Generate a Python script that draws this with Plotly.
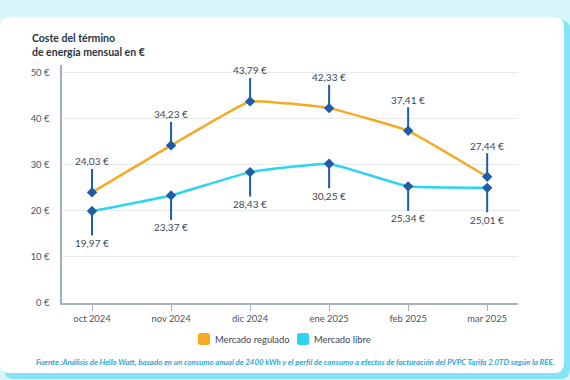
import plotly.graph_objects as go

months = ["oct 2024", "nov 2024", "dic 2024", "ene 2025", "feb 2025", "mar 2025"]
regulado = [24.03, 34.23, 43.79, 42.33, 37.41, 27.44]
libre = [19.97, 23.37, 28.43, 30.25, 25.34, 25.01]
y_ticks = [0, 10, 20, 30, 40, 50]
y_labels = ["0 €", "10 €", "20 €", "30 €", "40 €", "50 €"]
series_names = ["Mercado regulado", "Mercado libre"]

W, H = 570, 380
L, R, T, B = 62, 52, 65, 77
PW, PH = W - L - R, H - T - B


def px_x(p):
    return (p - L) / PW


def px_y(p):
    return (H - B - p) / PH


def fmt(v):
    return f"{v:.2f}".replace(".", ",") + " €"


def rounded_rect(x0, y0, x1, y1, r):
    X = px_x
    Y = px_y
    return (f"M {X(x0 + r)},{Y(y0)} L {X(x1 - r)},{Y(y0)} "
            f"Q {X(x1)},{Y(y0)} {X(x1)},{Y(y0 + r)} L {X(x1)},{Y(y1 - r)} "
            f"Q {X(x1)},{Y(y1)} {X(x1 - r)},{Y(y1)} L {X(x0 + r)},{Y(y1)} "
            f"Q {X(x0)},{Y(y1)} {X(x0)},{Y(y1 - r)} L {X(x0)},{Y(y0 + r)} "
            f"Q {X(x0)},{Y(y0)} {X(x0 + r)},{Y(y0)} Z")


ORANGE = "#f6a924"
CYAN = "#2ed3f0"
NAVY = "#1d5ea6"
FONT = "Lato"
TXT = "#3b4656"

fig = go.Figure()
xs = list(range(len(months)))
fig.add_trace(go.Scatter(x=xs, y=regulado, mode="lines+markers", name=series_names[0],
                         showlegend=False,
                         line=dict(color=ORANGE, width=2.5, shape="spline", smoothing=0.3),
                         marker=dict(symbol="diamond", size=8, color=NAVY)))
fig.add_trace(go.Scatter(x=xs, y=libre, mode="lines+markers", name=series_names[1],
                         showlegend=False,
                         line=dict(color=CYAN, width=2.5, shape="spline", smoothing=0.3),
                         marker=dict(symbol="diamond", size=8, color=NAVY)))

annotations = []
for i, v in enumerate(regulado):
    annotations.append(dict(x=i, y=v, xref="x", yref="y", text=fmt(v), showarrow=True,
                            arrowhead=0, arrowwidth=2, arrowcolor=NAVY, ax=0, ay=-31,
                            font=dict(family=FONT, size=10, color=TXT)))
for i, v in enumerate(libre):
    annotations.append(dict(x=i, y=v, xref="x", yref="y", text=fmt(v), showarrow=True,
                            arrowhead=0, arrowwidth=2, arrowcolor=NAVY, ax=0, ay=32,
                            font=dict(family=FONT, size=10, color=TXT)))
annotations.append(dict(x=px_x(30), y=px_y(30), xref="paper", yref="paper",
                        xanchor="left", yanchor="top", align="left", showarrow=False,
                        text="<b>Coste del término<br>de energía mensual en €</b>",
                        font=dict(family=FONT, size=10.5, color="#2a3545")))
annotations.append(dict(x=px_x(295), y=px_y(362), xref="paper", yref="paper",
                        xanchor="center", yanchor="middle", showarrow=False,
                        text="<b><i>Fuente :Análisis de Hello Watt, basado en un consumo anual de 2400 kWh y el perfil de consumo a efectos de facturación del PVPC Tarifa 2.0TD según la REE.</i></b>",
                        font=dict(family=FONT, size=7.85, color="#2aa7d6")))

shapes = [
    dict(type="path", xref="paper", yref="paper", layer="below",
         path=rounded_rect(4, 20, 570, 379, 10), fillcolor="#86e3f5", line=dict(width=0)),
    dict(type="path", xref="paper", yref="paper", layer="below",
         path=rounded_rect(0, 17, 564, 373, 10), fillcolor="white", line=dict(width=0)),
]

# manual legend
legend_items = [(series_names[0], ORANGE, 198), (series_names[1], CYAN, 297)]
for name, col, lx in legend_items:
    shapes.append(dict(type="path", xref="paper", yref="paper",
                       path=rounded_rect(lx, 333, lx + 12, 345, 2.5),
                       fillcolor=col, line=dict(width=0)))
    annotations.append(dict(x=px_x(lx + 15), y=px_y(339), xref="paper", yref="paper",
                            xanchor="left", yanchor="middle", showarrow=False, text=name,
                            font=dict(family=FONT, size=9.4, color=TXT)))

fig.update_layout(
    width=W, height=H,
    margin=dict(l=L, r=R, t=T, b=B),
    paper_bgcolor="#d8f5fb",
    plot_bgcolor="rgba(0,0,0,0)",
    font=dict(family=FONT, color="#4a5563"),
    annotations=annotations,
    shapes=shapes,
    showlegend=False,
    xaxis=dict(range=[-0.38, 5.39], tickvals=xs, ticktext=months, showgrid=False,
               zeroline=False, showline=True, linecolor="#a9b3bd", linewidth=1.5,
               ticks="outside", ticklen=6, tickcolor="#a9b3bd", tickwidth=1.2,
               tickfont=dict(family=FONT, size=9.4, color="#4a5563")),
    yaxis=dict(range=[0, 51.7], tickvals=y_ticks, ticktext=y_labels, showgrid=True,
               gridcolor="#e6ebf0", gridwidth=1, zeroline=False, showline=True,
               linecolor="#9db2c6", linewidth=1.5, ticks="", ticklabelstandoff=9,
               tickfont=dict(family=FONT, size=9.4, color="#4a5563")),
)

fig.write_html("out.html", config={"displayModeBar": False},
               post_script="document.body.style.margin='0';")
